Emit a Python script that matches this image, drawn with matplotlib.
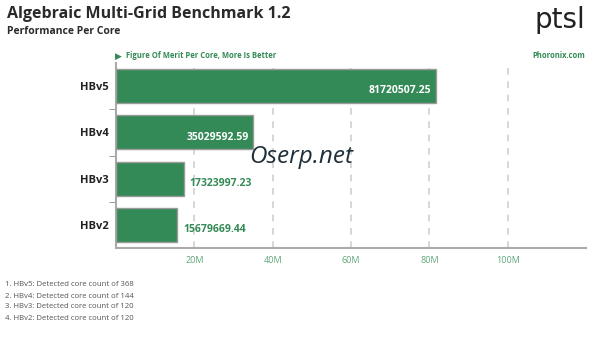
import matplotlib
matplotlib.use("Agg")
import matplotlib.pyplot as plt

categories = ["HBv5", "HBv4", "HBv3", "HBv2"]
values = [81720507.25, 35029592.59, 17323997.23, 15679669.44]
value_labels = ["81720507.25", "35029592.59", "17323997.23", "15679669.44"]
xticks = [20e6, 40e6, 60e6, 80e6, 100e6]
xtick_labels = ["20M", "40M", "60M", "80M", "100M"]
notes = ["1. HBv5: Detected core count of 368",
         "2. HBv4: Detected core count of 144",
         "3. HBv3: Detected core count of 120",
         "4. HBv2: Detected core count of 120"]

plt.rcParams['font.family'] = ['Open Sans', 'DejaVu Sans']
green = "#338a56"
fig = plt.figure(figsize=(6, 3.55), dpi=100)
ax = fig.add_axes([116/600, 1-248/355, 470/600, 185/355])

ys = list(range(len(categories)))
ax.barh(ys, values, height=0.74, color=green, edgecolor="#9a9a9a", linewidth=1, zorder=3)
ax.set_ylim(len(categories)-0.5, -0.5)
ax.set_xlim(0, 120e6)
ax.set_xticks(xticks)
ax.set_xticklabels(xtick_labels, color="#5fa77a", fontsize=6.5)
ax.set_yticks(ys)
ax.set_yticklabels(categories, fontsize=8, fontweight="bold", color="#222222")
ax.tick_params(axis="y", length=0, pad=5)
ax.tick_params(axis="x", length=0, pad=6)
ax.set_yticks([0.5, 1.5, 2.5], minor=True)
ax.tick_params(axis="y", which="minor", length=5, color="#888888")
ax.grid(axis="x", linestyle=(0, (4, 4)), color="#d0d0d0", linewidth=1.2, zorder=0)
for s in ["top", "right"]:
    ax.spines[s].set_visible(False)
ax.spines["left"].set_color("#aaaaaa")
ax.spines["bottom"].set_color("#aaaaaa")
ax.spines["left"].set_linewidth(1.5)
ax.spines["bottom"].set_linewidth(1.5)

for i, (v, lab) in enumerate(zip(values, value_labels)):
    if v > 30e6:
        ax.text(v - 1.2e6, i + 0.1, lab, ha="right", va="center", color="white",
                fontsize=7.5, fontweight="bold", zorder=4)
    else:
        ax.text(v + 1.5e6, i + 0.1, lab, ha="left", va="center", color=green,
                fontsize=7.5, fontweight="bold", zorder=4)

fig.text(7/600, 1-14/355, "Algebraic Multi-Grid Benchmark 1.2", fontsize=11.5,
         fontweight="bold", color="#2a2a2a", va="center", ha="left")
fig.text(7/600, 1-32/355, "Performance Per Core", fontsize=7.5, fontweight="bold",
         color="#2a2a2a", va="center", ha="left")
fig.text(126/600, 1-56/355, "Figure Of Merit Per Core, More Is Better", fontsize=5.5,
         fontweight="bold", color=green, va="center", ha="left")
fig.text(115/600, 1-56/355, "\u25B6", fontsize=6.5, color=green, va="center", ha="left",
         family=["DejaVu Sans"])
fig.text(585/600, 1-56/355, "Phoronix.com", fontsize=5.5, fontweight="bold",
         color=green, va="center", ha="right")
fig.text(585/600, 1-20/355, "ptsl", fontsize=20, color="#222222", va="center", ha="right",
         family=["DejaVu Sans"])
fig.text(301/600, 1-157/355, "Oserp.net", fontsize=17.5, style="italic", color="#1f2f3a",
         va="center", ha="center", zorder=10)
for k, n in enumerate(notes):
    fig.text(5/600, 1-(285+11*k)/355, n, fontsize=5.6, color="#555555", va="center", ha="left")

fig.savefig("out.png", dpi=100)
